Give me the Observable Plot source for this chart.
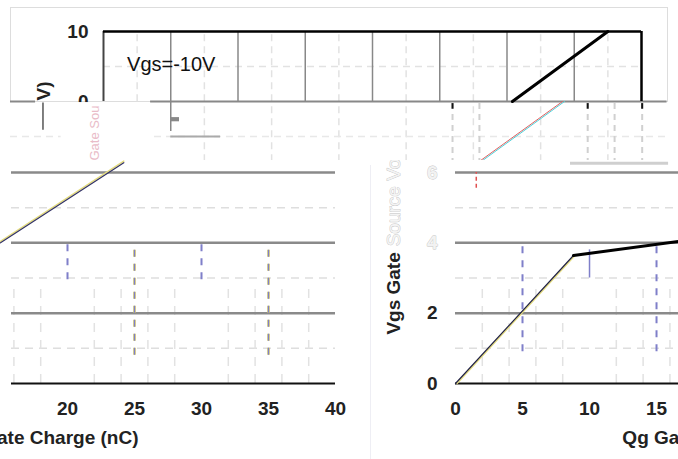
<!DOCTYPE html>
<html><head><meta charset="utf-8">
<script src="https://cdn.jsdelivr.net/npm/d3@7"></script>
<script src="https://cdn.jsdelivr.net/npm/@observablehq/plot@0.6"></script>
<style>
body{margin:0;background:#fff;}
#c{position:relative;width:678px;height:459px;overflow:hidden;background:#fff;}
.p{position:absolute;}
.p svg{display:block;overflow:hidden;max-width:none;}
#sep{position:absolute;left:370px;top:165px;width:0;height:294px;border-left:1px solid #eeeef4;}
</style></head><body><div id="c"><div id="sep"></div></div>
<script>
// ---------- data ----------
// top overlay panel (Vgs = -10 V)
const topGridX = [1,2,3,4,5,6,7];
const topMinorX = [0.5,1.5,2.5,3.5,4.5,5.5,6.5,7.5];
const topYTicks = [10, 0];
const topCurve = [{q:6.08,v:0},{q:7.5,v:10}];
const topGhost = [{q:5.56,v:-8.86},{q:6.84,v:0}];
const topLegend = "Vgs=-10V";
const topUnderX = [5.19,5.59,7.2,7.6,8.01];
const topUnderTicks = [5.19,7.2,8.01];
const topAxisPiece = "V)";
const topGarbled = "Gate Sou";

// lower-left panel
const leftXTicks = [20,25,30,35,40];
const leftCurve = [{q:15,v:4},{q:24.2,v:6.28}];
const leftShortDash = [20,30];
const leftLongDash = [25,35];
const leftMinorX = [16,18,22,24,26,28,32,34,36,38];
const gridMajorY = [2,4,6];
const gridMinorY = [1,3,5];
const xTitle = "Qg Gate Charge (nC)";

// lower-right panel
const rightXTicks = [0,5,10,15];
const rightYTicks = [0,2,4,6];
const rightYTickFaded = [false,false,true,true];
const rightCurveRise = [{q:0,v:0},{q:8.8,v:3.64}];
const rightCurvePlateau = [{q:8.8,v:3.64},{q:16.64,v:4.04}];
const rightMinorX = [2,4,6,8,12,14,16];
const rightLongDash = [5,15];
const yTitleDark = "Vgs Gate";
const yTitleFaded = "Source Voltage (V)";

// ---------- drawing ----------
const font = '"Liberation Sans", Arial, sans-serif';
const axisSize = 19;
const baseStyle = {fontFamily: font, background: "transparent", overflow: "hidden"};
const c = document.getElementById("c");
function place(svg, left, top) {
  const d = document.createElement("div");
  d.className = "p"; d.style.left = left + "px"; d.style.top = top + "px";
  d.appendChild(svg); c.appendChild(d);
}

const topPlot = Plot.plot({
  width: 678, height: 160, marginLeft: 10, marginRight: 11, marginTop: 7, marginBottom: 59,
  x: {domain: [0, 8], range: [103, 641], axis: null},
  y: {domain: [0, 10], range: [101, 31], axis: null},
  style: baseStyle,
  marks: [
    Plot.frame({stroke: "#ddd"}),
    Plot.ruleX(topMinorX, {y1: -8.6, y2: 10, stroke: "#e2e2e2", strokeDasharray: "7,5", strokeWidth: 1.5}),
    Plot.ruleY([5], {x1: 0, x2: 8, stroke: "#e2e2e2", strokeDasharray: "7,5", strokeWidth: 1.5}),
    Plot.ruleY([-5], {stroke: "#e8e8e8", strokeDasharray: "7,5", strokeWidth: 1.5}),
    Plot.ruleX(topUnderX, {y1: -0.3, y2: -8.6, stroke: "#d0d0d0", strokeDasharray: "6,5", strokeWidth: 2}),
    Plot.ruleX(topUnderTicks, {y1: -0.3, y2: -1.1, stroke: "#111", strokeWidth: 2}),
    Plot.ruleX(topGridX, {y1: 0, y2: 10, stroke: "#888", strokeWidth: 1.5}),
    Plot.ruleX([1], {y1: 0, y2: -4.3, stroke: "#888", strokeWidth: 1.5}),
    Plot.rect([0], {x1: 1.0, x2: 1.13, y1: -2.3, y2: -2.9, fill: "#888"}),
    Plot.ruleY([-5], {x1: 1.0, x2: 1.74, stroke: "#aaa", strokeWidth: 2}),
    Plot.ruleY([0], {x1: -1.383, x2: -1.01, stroke: "#888", strokeWidth: 2}),
    Plot.ruleY([0], {x1: 0.7, x2: 8.38, stroke: "#888", strokeWidth: 2}),
    Plot.ruleX([0], {y1: 0, y2: 10, stroke: "#444", strokeWidth: 2}),
    Plot.ruleX([8], {y1: 0, y2: 10, stroke: "#000", strokeWidth: 2.5}),
    Plot.ruleY([10], {x1: 0, x2: 8, stroke: "#000", strokeWidth: 2.5}),
    Plot.line(topCurve, {x: "q", y: "v", stroke: "#000", strokeWidth: 3}),
    Plot.line(topGhost, {x: "q", y: "v", stroke: "#e06060", strokeWidth: 1, dx: -1}),
    Plot.line(topGhost, {x: "q", y: "v", stroke: "#50d0d8", strokeWidth: 1, dx: 1}),
    Plot.text([topLegend], {x: 0.35, y: 5.3, text: d => d, textAnchor: "start", fontSize: 20, fill: "#111"}),
    Plot.text(topYTicks, {x: 0, y: d => d, text: d => String(d), dx: -15, textAnchor: "end", fontSize: axisSize, fontWeight: "bold", fill: "#222"}),
    Plot.rect([0], {x1: -0.63, x2: 0.70, y1: -0.15, y2: -8.7, fill: "white"}),
    Plot.text([topGarbled], {x: -0.13, y: -8.43, text: d => d, rotate: -90, textAnchor: "start", fontSize: 13, fill: "#e9bcc8"}),
    Plot.text([topAxisPiece], {x: -0.89, y: 0.14, text: d => d, rotate: -90, textAnchor: "start", fontSize: axisSize, fontWeight: "bold", fill: "#222"}),
    Plot.ruleX([-0.9], {y1: -0.2, y2: -4.1, stroke: "#555", strokeWidth: 1.5})
  ]
});
place(topPlot, 0, 0);

const leftPlot = Plot.plot({
  width: 350, height: 299, marginLeft: 11, marginRight: 15, marginTop: 12, marginBottom: 76,
  x: {domain: [15, 40], range: [0, 335], axis: null},
  y: {domain: [0, 6], range: [223, 12], axis: null},
  style: baseStyle,
  marks: [
    Plot.ruleY(gridMinorY, {stroke: "#dedede", strokeDasharray: "8,6", strokeWidth: 1.5}),
    Plot.ruleX(leftMinorX, {y1: 0, y2: 2.8, stroke: "#e2e2e2", strokeDasharray: "9,8", strokeWidth: 1.5}),
    Plot.ruleY(gridMajorY, {stroke: "#8a8a8a", strokeWidth: 2.5}),
    Plot.ruleX(leftShortDash, {y1: 2.95, y2: 3.97, stroke: "#7f7fc9", strokeDasharray: "7,7", strokeWidth: 2}),
    Plot.ruleX(leftLongDash, {y1: 0.8, y2: 3.97, stroke: "#d8cc60", strokeDasharray: "7,7", strokeWidth: 2.5}),
    Plot.ruleX(leftLongDash, {y1: 0.8, y2: 3.97, stroke: "#7f7fc9", strokeDasharray: "7,7", strokeWidth: 1.3}),
    Plot.ruleY([0], {stroke: "#111", strokeWidth: 2}),
    Plot.line(leftCurve, {x: "q", y: "v", stroke: "#e4dc80", strokeWidth: 1.5, dy: -1.5}),
    Plot.line(leftCurve, {x: "q", y: "v", stroke: "#333366", strokeWidth: 1.2}),
    Plot.text(leftXTicks, {x: d => d, y: 0, dy: 25, text: d => String(d), fontSize: axisSize, fontWeight: "bold", fill: "#222"}),
    Plot.text([xTitle], {x: 25.3, y: 0, dy: 54, text: d => d, textAnchor: "end", fontSize: axisSize, fontWeight: "bold", fill: "#222"})
  ]
});
place(leftPlot, 0, 160);

const rightPlot = Plot.plot({
  width: 300, height: 299, marginLeft: 77, marginRight: 0, marginTop: 12, marginBottom: 76,
  x: {domain: [0, 16.64], range: [77, 300], axis: null},
  y: {domain: [0, 6], range: [223, 12], axis: null},
  style: baseStyle,
  marks: [
    Plot.ruleY(gridMinorY, {stroke: "#dedede", strokeDasharray: "8,6", strokeWidth: 1.5}),
    Plot.ruleX(rightMinorX, {y1: 0, y2: 2.8, stroke: "#e2e2e2", strokeDasharray: "9,8", strokeWidth: 1.5}),
    Plot.ruleY(gridMajorY, {stroke: "#8a8a8a", strokeWidth: 2.5}),
    Plot.ruleY([6.26], {x1: 8.58, x2: 15.9, stroke: "#cfcfcf", strokeWidth: 3}),
    Plot.ruleX([1.55], {y1: 5.55, y2: 6.0, stroke: "#e05050", strokeDasharray: "4,3", strokeWidth: 1.5}),
    Plot.ruleX(rightLongDash, {y1: 0.9, y2: 3.97, stroke: "#7f7fc9", strokeDasharray: "7,7", strokeWidth: 2}),
    Plot.ruleX([10], {y1: 3.0, y2: 3.8, stroke: "#7f7fc9", strokeWidth: 1.5}),
    Plot.ruleY([0], {stroke: "#111", strokeWidth: 2}),
    Plot.line(rightCurveRise, {x: "q", y: "v", stroke: "#e4dc80", strokeWidth: 1.5, dx: 1.5}),
    Plot.line(rightCurveRise, {x: "q", y: "v", stroke: "#222244", strokeWidth: 1.2}),
    Plot.line(rightCurvePlateau, {x: "q", y: "v", stroke: "#000", strokeWidth: 3}),
    Plot.text(rightXTicks, {x: d => d, y: 0, dy: 25, text: d => String(d), fontSize: axisSize, fontWeight: "bold", fill: "#222"}),
    Plot.text(rightYTicks, {x: 0, y: d => d, dx: -18, text: d => String(d), textAnchor: "end", fontSize: axisSize, fontWeight: "bold",
      fill: (d, i) => rightYTickFaded[i] ? "#f2f2f2" : "#222", stroke: (d, i) => rightYTickFaded[i] ? "#c4c4c4" : "none", strokeWidth: 0.8}),
    Plot.text([yTitleDark], {x: -4.63, y: 1.39, text: d => d, rotate: -90, textAnchor: "start", fontSize: axisSize, fontWeight: "bold", fill: "#222"}),
    Plot.text([yTitleFaded], {x: -4.63, y: 3.9, text: d => d, rotate: -90, textAnchor: "start", fontSize: axisSize,
      fill: "#f4f4f4", stroke: "#c4c4c4", strokeWidth: 0.8}),
    Plot.text([xTitle], {x: 12.45, y: 0, dy: 54, text: d => d, textAnchor: "start", fontSize: axisSize, fontWeight: "bold", fill: "#222"})
  ]
});
place(rightPlot, 378, 160);
</script>
</body></html>
